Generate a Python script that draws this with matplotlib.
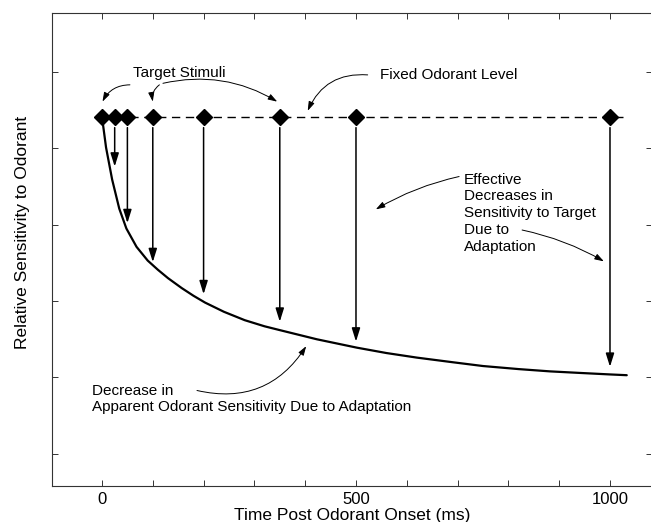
import numpy as np
import matplotlib
matplotlib.use("Agg")
import matplotlib.pyplot as plt

plt.rcParams['font.family'] = ['Liberation Sans', 'DejaVu Sans']

# target stimulus times (ms) and the fixed odorant level
stim_t = [0, 25, 50, 100, 200, 350, 500, 1000]
fixed_level = 5.41
fixed_line_t = [0, 1025]

# apparent sensitivity curve
curve_t = [0, 8, 20, 34, 48, 68, 90, 110, 130, 157, 180, 203, 240, 281, 320, 350,
           423, 502, 560, 620, 690, 750, 820, 882, 940, 1000, 1033]
curve_s = [5.41, 5.01, 4.59, 4.21, 3.95, 3.71, 3.53, 3.41, 3.30, 3.17, 3.07, 2.98,
           2.86, 2.75, 2.67, 2.62, 2.50, 2.39, 2.32, 2.26, 2.20, 2.15, 2.11, 2.08,
           2.06, 2.04, 2.03]

# where each downward arrow ends
arrow_t = [25, 50, 100, 200, 350, 500, 1000]
arrow_end = [4.76, 4.02, 3.51, 3.09, 2.73, 2.47, 2.14]
arrow_start = 5.27

x_ticks = list(range(0, 1001, 100))
x_labels = ["0", "", "", "", "", "500", "", "", "", "", "1000"]
y_ticks = [1, 2, 3, 4, 5, 6]

fig = plt.figure(figsize=(6.51, 5.22), dpi=100)
ax = fig.add_axes([52/651, 36/522, 600/651, 473/522])

ax.set_xlim(-98.4, 1082.7)
ax.set_ylim(0.58, 6.77)

# fixed odorant level
ax.plot(fixed_line_t, [fixed_level]*len(fixed_line_t), color="black", lw=1.0,
        dashes=(6, 4), zorder=2)
# adaptation curve
ax.plot(curve_t, curve_s, color="black", lw=1.6, zorder=3,
        solid_joinstyle="round", solid_capstyle="round")

# effective decreases
for t, e in zip(arrow_t, arrow_end):
    ax.annotate("", xy=(t, e), xytext=(t, arrow_start),
                arrowprops=dict(arrowstyle="-|>,head_length=0.8,head_width=0.25",
                                color="black", lw=1.1, shrinkA=0, shrinkB=0,
                                mutation_scale=10))

ax.plot(stim_t, [fixed_level]*len(stim_t), "D", color="black", ms=7.8, zorder=4)

# annotations
fs = 11
thin = dict(arrowstyle="-|>,head_length=0.55,head_width=0.18", color="black",
            lw=0.7, shrinkA=0, shrinkB=0, mutation_scale=10)

ax.text(151.6, 5.99, "Target Stimuli", fontsize=fs, ha="center", va="center")
ax.annotate("", xy=(1, 5.61), xytext=(55, 5.83),
            arrowprops=dict(thin, connectionstyle="arc3,rad=0.3"))
ax.annotate("", xy=(100, 5.61), xytext=(113, 5.83),
            arrowprops=dict(thin, connectionstyle="arc3,rad=0.3"))
ax.annotate("", xy=(345, 5.61), xytext=(120, 5.85),
            arrowprops=dict(thin, connectionstyle="arc3,rad=-0.2"))

ax.text(547, 5.96, "Fixed Odorant Level", fontsize=fs, ha="left", va="center")
ax.annotate("", xy=(405, 5.49), xytext=(523, 5.96),
            arrowprops=dict(thin, connectionstyle="arc3,rad=0.35"))

ax.text(712.6, 4.15, "Effective\nDecreases in\nSensitivity to Target\nDue to\nAdaptation",
        fontsize=fs, ha="left", va="center", linespacing=1.25)
ax.annotate("", xy=(539, 4.2), xytext=(703, 4.63),
            arrowprops=dict(thin, connectionstyle="arc3,rad=0.08"))
ax.annotate("", xy=(988, 3.52), xytext=(827, 3.93),
            arrowprops=dict(thin, connectionstyle="arc3,rad=-0.08"))

ax.text(-19.7, 1.72, "Decrease in\nApparent Odorant Sensitivity Due to Adaptation",
        fontsize=fs, ha="left", va="center", linespacing=1.25)
ax.annotate("", xy=(402, 2.41), xytext=(187, 1.83),
            arrowprops=dict(thin, connectionstyle="arc3,rad=0.35"))

ax.set_xticks(x_ticks)
ax.set_xticklabels(x_labels)
ax.set_yticks(y_ticks)
ax.set_yticklabels([])
ax.tick_params(direction="in", length=4.3, width=0.7, color="#333333",
               top=True, right=True, labelsize=12, pad=4)
for s in ax.spines.values():
    s.set_color("#333333")
    s.set_linewidth(0.8)

ax.set_xlabel("Time Post Odorant Onset (ms)", fontsize=12.5, labelpad=1)
ax.set_ylabel("Relative Sensitivity to Odorant", fontsize=12.5)
ax.yaxis.set_label_coords(-0.036, 0.537)

fig.savefig("out.png", dpi=100)
plt.close()
